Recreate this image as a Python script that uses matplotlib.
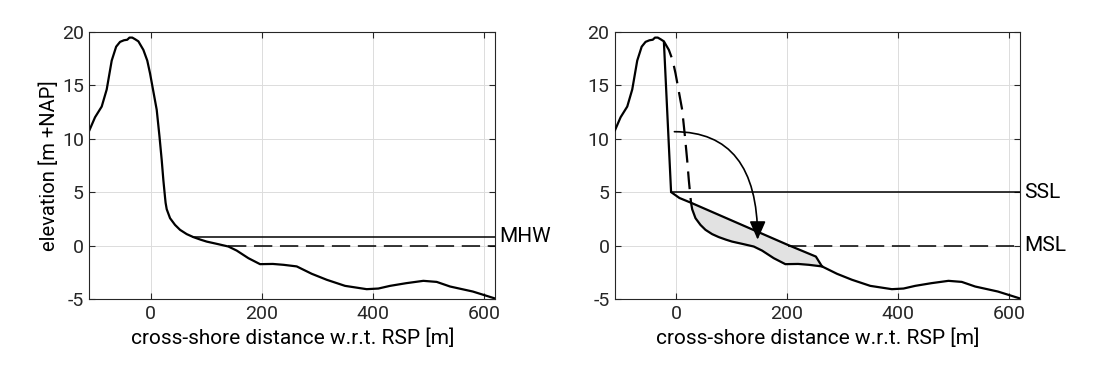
import numpy as np
import matplotlib
matplotlib.use('Agg')
import matplotlib.pyplot as plt

plt.rcParams['font.family'] = ['Roboto', 'DejaVu Sans']
plt.rcParams['axes.unicode_minus'] = False

# original cross-shore profile
x_orig = [-110, -100, -88, -79, -70, -62, -55, -48, -42, -38, -33, -28, -22, -13, -6, -1,
          5, 11, 16, 20, 23, 26, 27, 29, 35, 44, 53, 65, 77, 90, 101, 120, 140, 155, 176,
          197, 220, 239, 263, 290, 317, 350, 389, 410, 431, 460, 491, 515, 539, 580, 620]
z_orig = [10.8, 12.0, 13.0, 14.6, 17.3, 18.6, 19.05, 19.2, 19.25, 19.45, 19.45, 19.3, 19.1,
          18.3, 17.3, 16.1, 14.4, 12.7, 10.2, 8.0, 6.1, 4.5, 4.0, 3.4, 2.56, 1.93, 1.47,
          1.07, 0.79, 0.55, 0.37, 0.15, -0.09, -0.47, -1.18, -1.74, -1.72, -1.8, -1.95,
          -2.64, -3.2, -3.77, -4.08, -4.02, -3.77, -3.52, -3.3, -3.4, -3.83, -4.3, -4.95]

# post-storm profile between dune crest and toe of the deposit
x_storm = [-22, -9, 6, 27, 201, 252, 263]
z_storm = [19.1, 5.0, 4.45, 4.0, 0.07, -1.03, -1.95]

mhw = 0.8
ssl = 5.0
msl = 0.0
mhw_start = 77
msl_start_left = 140
ssl_start = -9
msl_start_right = 201

i_crest = x_orig.index(-22)
i_cross = x_orig.index(27)
i_toe = x_orig.index(263)

TICK_FS = 14
XLAB_FS = 15
YLAB_FS = 14.5
NOTE_FS = 15


def style_axes(ax):
    ax.set_xlim(-110, 620)
    ax.set_ylim(-5, 20)
    ax.set_xticks([0, 200, 400, 600])
    ax.set_yticks([-5, 0, 5, 10, 15, 20])
    ax.grid(True, color='#dcdcdc', linewidth=0.7)
    ax.set_axisbelow(True)
    ax.tick_params(direction='in', top=True, right=True, length=4, width=0.8,
                   labelsize=TICK_FS, colors='#262626', pad=4)
    for s in ax.spines.values():
        s.set_linewidth(0.8)
        s.set_color('#262626')
    ax.set_xlabel('cross-shore distance w.r.t. RSP [m]', fontsize=XLAB_FS, labelpad=4)


fig = plt.figure(figsize=(10.94, 3.74), dpi=100)
ax1 = fig.add_axes([0.0818, 0.2005, 0.3707, 0.7147])
ax2 = fig.add_axes([0.5622, 0.2005, 0.3702, 0.7147])

# left panel: initial profile with MHW
ax1.plot([mhw_start, 620], [mhw, mhw], 'k-', lw=1.1)
ax1.plot([msl_start_left, 620], [msl, msl], 'k-', lw=1.1, dashes=(12, 5))
ax1.plot(x_orig, z_orig, 'k-', lw=1.6)
ax1.text(628, mhw, 'MHW', va='center', ha='left', fontsize=NOTE_FS, clip_on=False)
ax1.set_ylabel('elevation [m +NAP]', fontsize=YLAB_FS, labelpad=2)
style_axes(ax1)

# right panel: dune erosion during storm surge
poly_x = x_storm[3:] + x_orig[i_cross:i_toe + 1][::-1]
poly_z = z_storm[3:] + z_orig[i_cross:i_toe + 1][::-1]
ax2.fill(poly_x, poly_z, color='#e2e2e2', zorder=2)
ax2.plot([ssl_start, 620], [ssl, ssl], 'k-', lw=1.1, zorder=3)
ax2.plot([msl_start_right, 620], [msl, msl], 'k-', lw=1.1, dashes=(12, 5), zorder=3)
ax2.plot(x_orig[i_crest:i_cross + 1], z_orig[i_crest:i_cross + 1], 'k-', lw=1.6,
         dashes=(8, 4), zorder=4)
ax2.plot(x_orig[i_cross:i_toe + 1], z_orig[i_cross:i_toe + 1], 'k-', lw=1.6, zorder=4)
x_new = x_orig[:i_crest] + x_storm + x_orig[i_toe + 1:]
z_new = z_orig[:i_crest] + z_storm + z_orig[i_toe + 1:]
ax2.plot(x_new, z_new, 'k-', lw=1.6, zorder=5)
ax2.annotate('', xy=(147, 0.55), xytext=(-3, 10.65),
             arrowprops=dict(arrowstyle='-|>,head_length=0.8,head_width=0.35',
                             connectionstyle='angle3,angleA=0,angleB=90',
                             lw=1.2, color='k', shrinkA=0, shrinkB=0,
                             mutation_scale=14), zorder=6)
ax2.text(628, ssl, 'SSL', va='center', ha='left', fontsize=NOTE_FS, clip_on=False)
ax2.text(628, msl, 'MSL', va='center', ha='left', fontsize=NOTE_FS, clip_on=False)
style_axes(ax2)

fig.savefig('out.png', dpi=100)
